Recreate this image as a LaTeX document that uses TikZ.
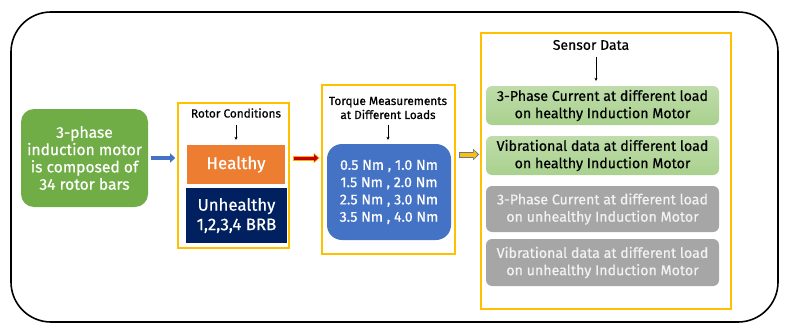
\documentclass[tikz,border=0pt]{standalone}
\usepackage{fontspec}
\setmainfont{Fira Sans}[FakeBold=0.6]
\usetikzlibrary{arrows.meta}
\definecolor{motorgreen}{HTML}{70AD47}
\definecolor{healthorange}{HTML}{ED7D31}
\definecolor{navy}{HTML}{002060}
\definecolor{loadblue}{HTML}{4472C4}
\definecolor{frameyellow}{HTML}{FFC000}
\definecolor{lightgreen}{HTML}{A9D18E}
\definecolor{lightgray}{HTML}{A6A6A6}
\definecolor{darkred}{HTML}{C00000}
\begin{document}
\begin{tikzpicture}[x=1pt, y=-1pt, >=Latex,
  box/.style={inner sep=0pt, align=center, text=white},
  frame/.style={draw=frameyellow, line width=1.6pt, inner sep=0pt},
  sensbox/.style={box, rounded corners=6pt, minimum width=233pt, font=\fontsize{14.2}{17.3}\selectfont},
  down/.style={->, thin, >={Stealth[length=3pt,width=3pt]}}]
\useasboundingbox (0,0) rectangle (789,329);
\draw[line width=1.6pt, rounded corners=40pt] (11,12) rectangle (778,322);
\node[frame, minimum width=111pt, minimum height=145pt] (rotor) at (233.5,175.5) {};
\node[frame, minimum width=133pt, minimum height=169pt] (torque) at (388.5,169.5) {};
\node[frame, minimum width=250pt, minimum height=276pt] (sensor) at (606,171) {};
\node[box, fill=motorgreen, rounded corners=13pt, minimum width=127pt, minimum height=98pt, font=\fontsize{15.6}{17.3}\selectfont] (motor) at (84.5,158) {3-phase\\induction motor\\is composed of\\34 rotor bars};
\node[font=\fontsize{11.8}{13}\selectfont] (rotlbl) at (236,113) {Rotor Conditions};
\node[box, fill=healthorange, minimum width=98pt, minimum height=39pt, font=\fontsize{17}{19}\selectfont] (healthy) at (236,164.5) {Healthy};
\node[box, fill=navy, minimum width=101pt, minimum height=55pt, font=\fontsize{16.8}{19.5}\selectfont] (unhealthy) at (236.5,215.5) {Unhealthy\\1,2,3,4 BRB};
\node[align=center, font=\fontsize{11.8}{14}\selectfont] (tqlbl) at (388,108) {Torque Measurements\\at Different Loads};
\node[box, fill=loadblue, rounded corners=15pt, minimum width=124pt, minimum height=96pt, font=\fontsize{14.2}{17.3}\selectfont] (loads) at (389,192) {0.5 Nm , 1.0 Nm\\1.5 Nm , 2.0 Nm\\2.5 Nm , 3.0 Nm\\3.5 Nm , 4.0 Nm};
\node[font=\fontsize{14}{16}\selectfont] (senslbl) at (591,45) {Sensor Data};
\node[sensbox, top color=lightgreen!75, bottom color=lightgreen, text=black, minimum height=39pt] (sh1) at (602.5,105.5) {3-Phase Current at different load\\on healthy Induction Motor};
\node[sensbox, top color=lightgreen!75, bottom color=lightgreen, text=black, minimum height=39pt] (sh2) at (602.5,155.5) {Vibrational data at different load\\on healthy Induction Motor};
\node[sensbox, fill=lightgray, text=white!95!black, minimum height=46pt] (su1) at (602.5,209) {3-Phase Current at different load\\on unhealthy Induction Motor};
\node[sensbox, fill=lightgray, text=white!95!black, minimum height=47pt] (su2) at (602.5,262.5) {Vibrational data at different load\\on unhealthy Induction Motor};
% connectors
\draw[down, shorten <=4pt, shorten >=5pt] (rotlbl) -- (healthy);
\draw[down, shorten <=2pt, shorten >=4pt] (tqlbl.south) -- (tqlbl.south |- loads.north);
\draw[down, shorten <=3pt, shorten >=5pt] ([xshift=5pt]senslbl.south) -- ([xshift=5pt]senslbl.south |- sh1.north);
\draw[loadblue, line width=3.5pt, -{Triangle[length=5pt,width=9pt]}, shorten <=3pt, shorten >=2pt] (motor) -- (motor -| rotor.west);
\draw[frameyellow!70!orange, line width=5pt, -{Triangle[length=6pt,width=10pt]}, shorten <=3pt, shorten >=1.5pt] (rotor.east |- motor) -- (torque.west |- motor);
\draw[darkred, line width=3pt, -{Triangle[length=4pt,width=7pt]}, shorten <=4pt, shorten >=3pt] (rotor.east |- motor) -- (torque.west |- motor);
\draw[loadblue!60!gray, line width=6pt, -{Triangle[length=6pt,width=11pt]}, shorten <=3pt, shorten >=1pt] (torque.east |- healthy) ++(0,-10) coordinate (ya) -- (ya -| sensor.west);
\draw[frameyellow, line width=4pt, -{Triangle[length=4pt,width=8pt]}, shorten <=4pt, shorten >=2.5pt] (ya) -- (ya -| sensor.west);
\end{tikzpicture}
\end{document}
